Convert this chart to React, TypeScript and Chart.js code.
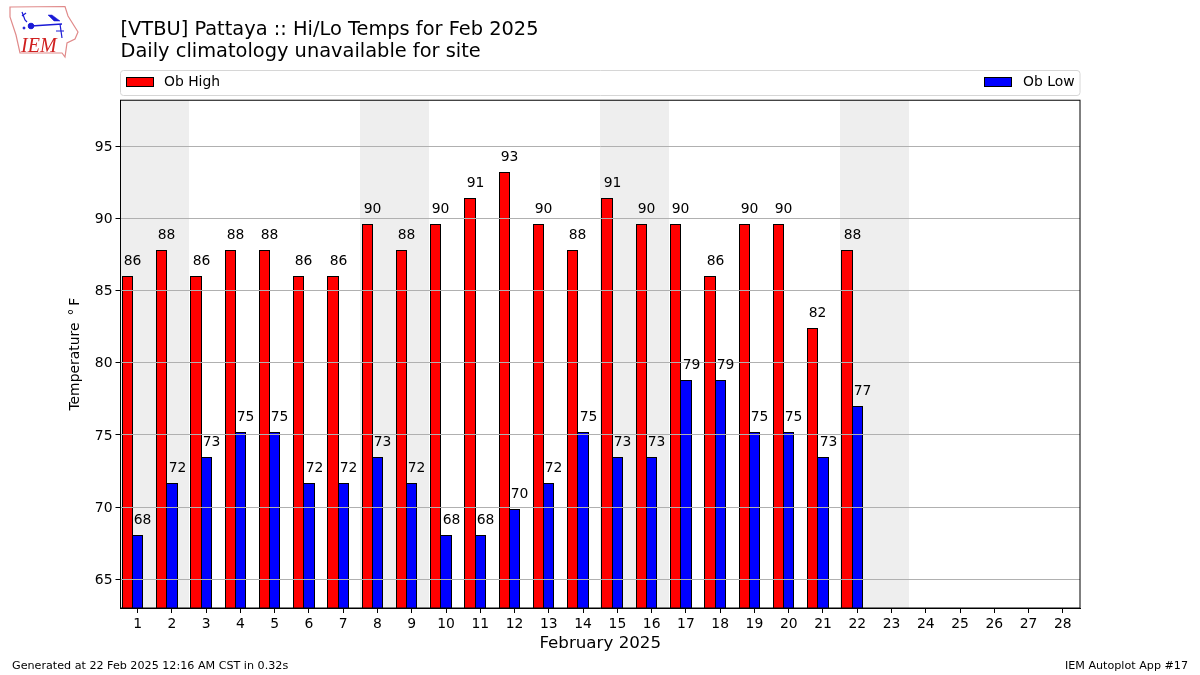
import React, { useEffect, useRef } from "react";
import { Chart, registerables } from "chart.js";

Chart.register(...registerables);

const days = ["1","2","3","4","5","6","7","8","9","10","11","12","13","14","15","16","17","18","19","20","21","22","23","24","25","26","27","28"];
const obHigh = [86,87.8,86,87.8,87.8,86,86,89.6,87.8,89.6,91.4,93.2,89.6,87.8,91.4,89.6,89.6,86,89.6,89.6,82.4,87.8];
const obLow = [68,71.6,73.4,75.2,75.2,71.6,71.6,73.4,71.6,68,68,69.8,71.6,75.2,73.4,73.4,78.8,78.8,75.2,75.2,73.4,77];
const yTicks = [65,70,75,80,85,90,95];
const weekendDays = [1,2,8,9,15,16,22,23];
const titleLines = ["[VTBU] Pattaya :: Hi/Lo Temps for Feb 2025", "Daily climatology unavailable for site"];
const footerLeft = "Generated at 22 Feb 2025 12:16 AM CST in 0.32s";
const footerRight = "IEM Autoplot App #17";

const FONT = "'DejaVu Sans'";

const decor = {
  id: "decor",
  beforeDatasetsDraw(chart: any) {
    const { ctx, chartArea: a, scales: { x } } = chart;
    const step = x.getPixelForValue(1) - x.getPixelForValue(0);
    ctx.save();
    ctx.fillStyle = "#eeeeee";
    for (const d of weekendDays) {
      const c = x.getPixelForValue(d - 1);
      const l = Math.round(c - step / 2);
      const r = Math.round(c + step / 2);
      ctx.fillRect(l, a.top, r - l, a.bottom - a.top);
    }
    ctx.restore();
    // snap the bars to whole pixels so their outlines stay crisp and neighbours share one line
    chart.data.datasets.forEach((_: any, i: number) => {
      chart.getDatasetMeta(i).data.forEach((bar: any) => {
        const l = Math.floor(bar.x - bar.width / 2);
        const r = Math.floor(bar.x + bar.width / 2) + 1;
        bar.x = (l + r) / 2;
        bar.width = r - l;
        bar.y = Math.floor(bar.y);
      });
    });
  },
  afterDraw(chart: any) {
    const { ctx, chartArea: a } = chart;
    const shown = chart.data.datasets.filter((ds: any) => ds.label);
    ctx.save();
    // value labels
    ctx.font = `13.9px ${FONT}`;
    ctx.fillStyle = "#000";
    ctx.textAlign = "center";
    ctx.textBaseline = "middle";
    shown.forEach((ds: any, i: number) => {
      chart.getDatasetMeta(i).data.forEach((bar: any, j: number) => {
        ctx.fillText(String(Math.round(ds.data[j])), bar.x + bar.width / 2 - 0.5, bar.y - 15);
      });
    });
    // frame
    ctx.strokeStyle = "#000";
    ctx.lineWidth = 1;
    ctx.strokeRect(a.left, a.top, a.right - a.left, a.bottom - a.top);
    // legend
    ctx.strokeStyle = "#d6d6d6";
    ctx.beginPath();
    ctx.roundRect(120.5, 70.5, 959.5, 25, 3);
    ctx.stroke();
    ctx.textBaseline = "middle";
    ctx.textAlign = "left";
    const items = [
      { swatch: 126.5, text: 164 },
      { swatch: 984.5, text: 1023 },
    ];
    shown.forEach((ds: any, i: number) => {
      ctx.fillStyle = ds.backgroundColor;
      ctx.fillRect(items[i].swatch, 77.5, 27, 9);
      ctx.strokeStyle = "#000";
      ctx.strokeRect(items[i].swatch, 77.5, 27, 9);
      ctx.fillStyle = "#000";
      ctx.fillText(ds.label, items[i].text, 82);
    });
    // footer
    ctx.font = `11.15px ${FONT}`;
    ctx.fillText(footerLeft, 12, 666.5);
    ctx.textAlign = "right";
    ctx.fillText(footerRight, 1188, 666.5);
    ctx.restore();
  },
};

export default function App() {
  const ref = useRef<HTMLCanvasElement>(null);
  useEffect(() => {
    document.body.style.margin = "0";
    const bar = { borderColor: "#000", borderWidth: 1, categoryPercentage: 0.9, barPercentage: 1 };
    const chart = new Chart(ref.current as HTMLCanvasElement, {
      type: "bar",
      data: {
        labels: days,
        datasets: [
          { label: "Ob High", data: obHigh, backgroundColor: "#ff0000", ...bar },
          { label: "Ob Low", data: obLow, backgroundColor: "#0000ff", ...bar },
          { label: "", data: [], ...bar },
        ],
      },
      options: {
        responsive: false,
        devicePixelRatio: 1,
        animation: false,
        layout: { padding: { left: 0, right: 120, top: 0, bottom: 0 } },
        plugins: {
          legend: { display: false },
          tooltip: { enabled: false },
          title: {
            display: true,
            text: titleLines,
            align: "start",
            fullSize: false,
            color: "#000",
            font: { family: FONT, size: 19.4, weight: "normal", lineHeight: 1.14 },
            padding: { top: 19, bottom: 37 },
          },
        },
        scales: {
          x: {
            grid: { display: true, drawOnChartArea: false, drawTicks: true, tickLength: 5, tickColor: "#000", offset: false },
            border: { color: "#000", width: 1, z: 2 },
            ticks: { color: "#000", font: { family: FONT, size: 13.9 }, padding: 3, maxRotation: 0, autoSkip: false },
            title: { display: true, text: "February 2025", color: "#000", font: { family: FONT, size: 16.7, lineHeight: 1.2 }, padding: { top: 0, bottom: 21 } },
            afterFit: (s: any) => { s.height = 67; },
          },
          y: {
            min: 63,
            max: 98.2,
            grid: { color: "#b0b0b0", lineWidth: 1, tickLength: 5, tickColor: "#000", z: 1 },
            border: { color: "#000", width: 1, z: 2 },
            afterBuildTicks: (s: any) => { s.ticks = yTicks.map((value) => ({ value })); },
            ticks: { color: "#000", font: { family: FONT, size: 13.9 }, padding: 3, labelOffset: 1 },
            title: { display: true, text: "Temperature \u2009°\u2009F", color: "#000", font: { family: FONT, size: 13.9, lineHeight: 1.2 }, padding: { top: 67, bottom: 0 } },
            afterFit: (s: any) => { s.width = 120.5; },
          },
        },
      },
      plugins: [decor],
    } as any);
    return () => chart.destroy();
  }, []);
  return (
    <div style={{ position: "relative", width: 1200, height: 675 }}>
      <canvas ref={ref} width={1200} height={675} style={{ display: "block" }} />
      <svg width={80} height={60} style={{ position: "absolute", left: 0, top: 0 }}>
        <polygon points="10,7 65,6.5 68,16 78,32 75,39 67,43 65,57 62,53 20,53 16,35 10,17" fill="#fff" stroke="#e08a8a" strokeWidth={1.2} />
        <g stroke="#1a1ad6" fill="#1a1ad6">
          <line x1={31} y1={26} x2={62} y2={24} strokeWidth={1.6} />
          <circle cx={31} cy={26} r={2.8} />
          <polyline points="22,12 25,20 27,22" strokeWidth={1.2} fill="none" />
          <line x1={22} y1={16} x2={26} y2={13} strokeWidth={1.2} />
          <polygon points="48,15 52,15 60,21 54,21" strokeWidth={0.5} />
          <line x1={60} y1={24} x2={62} y2={38} strokeWidth={1.2} />
          <line x1={56} y1={31} x2={64} y2={31} strokeWidth={1} />
          <circle cx={24} cy={28} r={1} />
        </g>
        <text x={21} y={52} fontFamily="'Liberation Serif'" fontStyle="italic" fontSize={20} fill="#d02020">IEM</text>
      </svg>
    </div>
  );
}
